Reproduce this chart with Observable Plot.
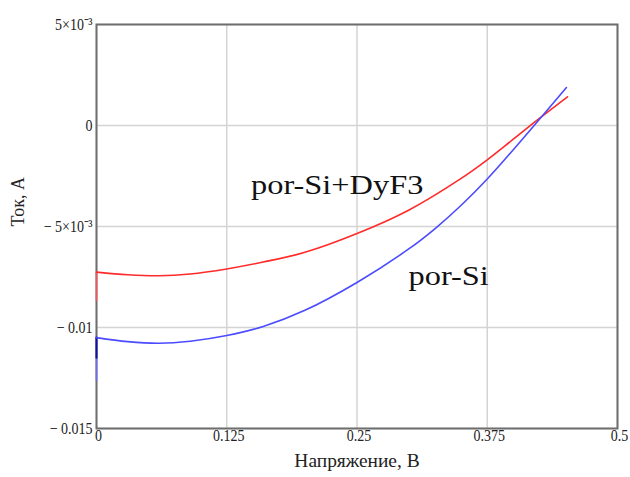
<!DOCTYPE html>
<html>
<head>
<meta charset="utf-8">
<script src="https://cdn.jsdelivr.net/npm/d3@7"></script>
<script src="https://cdn.jsdelivr.net/npm/@observablehq/plot@0.6"></script>
<style>
  html, body { margin: 0; padding: 0; background: #fff; }
  #chart svg { display: block; }
</style>
</head>
<body>
<div id="chart"></div>
<script>
// Voltage (V) and current (A)
const dyVoltage = [0, 0.03, 0.06, 0.09, 0.125, 0.16, 0.2, 0.25, 0.3, 0.35, 0.375, 0.4, 0.425, 0.452];
const dyCurrent = [-0.00726, -0.00739, -0.00744, -0.00735, -0.00710, -0.00676, -0.00628, -0.00535, -0.00418, -0.00262, -0.00170, -0.00068, 0.00035, 0.00142];
const siVoltage = [0, 0.03, 0.06, 0.09, 0.125, 0.16, 0.2, 0.25, 0.3, 0.325, 0.35, 0.375, 0.4, 0.42, 0.451];
const siCurrent = [-0.01050, -0.01070, -0.01078, -0.01068, -0.01040, -0.00995, -0.00915, -0.00777, -0.00610, -0.00510, -0.00395, -0.00265, -0.00120, 0.00000, 0.00188];
// initial vertical jump at V = 0
const dyStartCurrent = [-0.00866, -0.00726];
const siStartCurrent = [-0.01262, -0.01050];
const siStartDark = [-0.01150, -0.01050];

const xTicks = [0, 0.125, 0.25, 0.375, 0.5];
const xTickLabels = ["0", "0.125", "0.25", "0.375", "0.5"];
const yTicks = [0.005, 0, -0.005, -0.01, -0.015];
const yTickLabels = ["5×10⁻³", "0", "− 5×10⁻³", "− 0.01", "− 0.015"];
const labels = [
  {text: "por-Si+DyF3", v: 0.231, i: -0.00298},
  {text: "por-Si", v: 0.338, i: -0.00745}
];

const dy = dyVoltage.map((v, k) => ({v, i: dyCurrent[k]}));
const si = siVoltage.map((v, k) => ({v, i: siCurrent[k]}));
const dyStart = dyStartCurrent.map(i => ({v: 0, i}));
const siStart = siStartCurrent.map(i => ({v: 0, i}));
const siDark = siStartDark.map(i => ({v: 0, i}));
const xTickData = xTicks.map((v, k) => ({v, label: xTickLabels[k]}));
const yTickData = yTicks.map((i, k) => ({i, label: yTickLabels[k]}));

const serif = "'Liberation Serif', 'Times New Roman', serif";

const chart = Plot.plot({
  width: 630,
  height: 477,
  marginLeft: 96,
  marginRight: 13,
  marginTop: 24,
  marginBottom: 49,
  style: {fontFamily: serif, background: "#fff", color: "#222"},
  x: {domain: [0, 0.5], axis: null},
  y: {domain: [-0.015, 0.005], axis: null},
  marks: [
    Plot.gridX(xTicks, {stroke: "#d4d4d4", strokeOpacity: 1, strokeWidth: 1.5}),
    Plot.gridY(yTicks, {stroke: "#d4d4d4", strokeOpacity: 1, strokeWidth: 1.5}),
    Plot.frame({stroke: "#6e6e6e", strokeWidth: 2}),
    // tick labels
    Plot.text(xTickData, {x: "v", text: "label", frameAnchor: "bottom", dy: 12, dx: 2,
      fontSize: 14, fontFamily: serif, fill: "#222", className: "tick"}),
    Plot.text(yTickData, {y: "i", text: "label", frameAnchor: "left", dx: -4, textAnchor: "end",
      fontSize: 14, fontFamily: serif, fill: "#222", className: "tick"}),
    Plot.line(dyStart, {x: "v", y: "i", stroke: "#ff5050", strokeWidth: 1.5}),
    Plot.line(siStart, {x: "v", y: "i", stroke: "#6a6aff", strokeWidth: 1.5}),
    Plot.line(siDark, {x: "v", y: "i", stroke: "#1010a0", strokeWidth: 2}),
    Plot.line(dy, {x: "v", y: "i", stroke: "#ff2a2a", strokeWidth: 1.6, curve: "catmull-rom"}),
    Plot.line(si, {x: "v", y: "i", stroke: "#4b4bff", strokeWidth: 1.6, curve: "catmull-rom"}),
    Plot.text(labels, {x: "v", y: "i", text: "text", fontSize: 27, fontFamily: serif, fill: "#111", className: "anno"}),
    Plot.text(["Напряжение, В"], {frameAnchor: "bottom", dy: 38, fontSize: 18, fontFamily: serif, fill: "#222", className: "xlab"}),
    Plot.text(["Ток, А"], {frameAnchor: "left", dx: -78, rotate: -90, fontSize: 18, fontFamily: serif, fill: "#222"})
  ]
});
document.getElementById("chart").appendChild(chart);
// stretch glyphs like the reference (scale about each text's anchor)
function stretch(sel, kx, ky) {
  d3.select(chart).selectAll(sel).each(function() {
    const t = this.getAttribute("transform") || "";
    const x = this.getAttribute("x");
    const y = this.getAttribute("y");
    if (t) {
      this.setAttribute("transform", `${t} scale(${kx},${ky})`);
    } else if (x != null || y != null) {
      const X = +x || 0, Y = +y || 0;
      this.setAttribute("transform", `translate(${X},${Y}) scale(${kx},${ky}) translate(${-X},${-Y})`);
    }
  });
}
stretch(".anno text", 1.2, 1);
stretch(".xlab text", 1.08, 1);
stretch(".tick text", 1, 1.25);
</script>
</body>
</html>
